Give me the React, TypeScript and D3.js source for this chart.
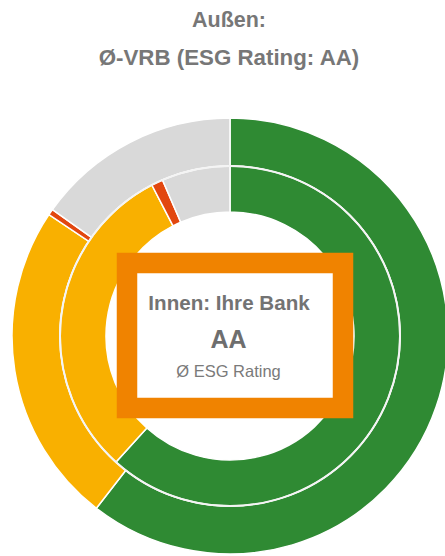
import React from "react";
import * as d3 from "d3";

const categories = ["AAA–AA", "A", "BBB", "ohne Rating"];
const colors = ["#2f8a33", "#f9b000", "#e2470f", "#d9d9d9"];
const outerValues = [60.5, 23.9, 0.45, 15.15];
const innerValues = [61.7, 30.7, 1.1, 6.5];
const titleLines = ["Außen:", "Ø-VRB (ESG Rating: AA)"];
const centerLines = ["Innen: Ihre Bank", "AA", "Ø ESG Rating"];

const W = 445;
const H = 556;
const cx = 230;
const cy = 336;

export default function App() {
  const pie = d3
    .pie<number>()
    .sort(null)
    .value((d) => d);
  const outerArc = d3.arc<d3.PieArcDatum<number>>().innerRadius(170).outerRadius(218);
  const innerArc = d3.arc<d3.PieArcDatum<number>>().innerRadius(124).outerRadius(170);
  const outer = pie(outerValues);
  const inner = pie(innerValues);
  const font = "Liberation Sans, Arial, sans-serif";
  return (
    <svg
      width={W}
      height={H}
      style={{ position: "absolute", left: 0, top: 0, background: "#fff" }}
    >
      <rect width={W} height={H} fill="#fff" />
      <text x={229} y={27} textAnchor="middle" fontFamily={font} fontWeight="bold" fontSize={21.5} fill="#777">
        {titleLines[0]}
      </text>
      <text x={229} y={65} textAnchor="middle" fontFamily={font} fontWeight="bold" fontSize={22.3} fill="#777">
        {titleLines[1]}
      </text>
      <g transform={`translate(${cx},${cy})`}>
        {outer.map((d, i) => (
          <path key={"o" + i} d={outerArc(d) || ""} fill={colors[i]} stroke="#fff" strokeWidth={1.5}>
            <title>{categories[i]}</title>
          </path>
        ))}
        {inner.map((d, i) => (
          <path key={"i" + i} d={innerArc(d) || ""} fill={colors[i]} stroke="#fff" strokeWidth={1.5}>
            <title>{categories[i]}</title>
          </path>
        ))}
        <circle r={170} fill="none" stroke="#f4f4f4" strokeWidth={2} />
      </g>
      <rect x={127} y={263} width={216} height={145} fill="#fff" stroke="#f08300" strokeWidth={20.5} />
      <text x={229} y={310} textAnchor="middle" fontFamily={font} fontWeight="bold" fontSize={20.6} fill="#737373">
        {centerLines[0]}
      </text>
      <text x={228.5} y={348} textAnchor="middle" fontFamily={font} fontWeight="bold" fontSize={25} fill="#6e6e6e">
        {centerLines[1]}
      </text>
      <text x={228.5} y={377} textAnchor="middle" fontFamily={font} fontSize={16.5} fill="#7a7a7a">
        {centerLines[2]}
      </text>
    </svg>
  );
}
